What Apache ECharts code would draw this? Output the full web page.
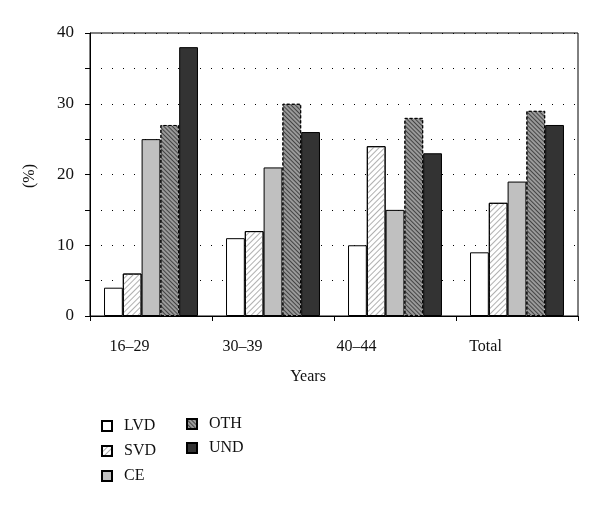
<!DOCTYPE html>
<html>
<head>
<meta charset="utf-8">
<script src="https://cdn.jsdelivr.net/npm/echarts@6/dist/echarts.min.js"></script>
<style>html,body{margin:0;padding:0;background:#fff}#c{width:600px;height:508px}</style>
</head>
<body>
<div id="c"></div>
<script>
var categories = ['16–29', '30–39', '40–44', 'Total'];
var LVD = [4, 11, 10, 9];
var SVD = [6, 12, 24, 16];
var CE  = [25, 21, 15, 19];
var OTH = [27, 30, 28, 29];
var UND = [38, 26, 23, 27];
var yTicks = [0, 10, 20, 30, 40];

var FONT = "'Liberation Serif', 'DejaVu Serif', serif";
var labelPad = [43, 61, 77, 63];
var rich = {};
labelPad.forEach(function (p, i) {
  rich['s' + i] = { padding: [0, p, 0, 0], fontFamily: FONT, fontSize: 16, color: '#111' };
});

function bar(name, data, style) {
  return {
    name: name, type: 'bar', data: data, barGap: 0, barCategoryGap: '23%',
    itemStyle: Object.assign({ borderColor: '#000', borderWidth: 1 }, style),
    emphasis: { disabled: true }, animation: false
  };
}

var chart = echarts.init(document.getElementById('c'), null, { renderer: 'canvas' });
chart.setOption({
  animation: false,
  grid: { left: 90, right: 22, top: 33, bottom: 192, show: true, borderColor: '#000', borderWidth: 1, backgroundColor: 'transparent' },
  xAxis: {
    type: 'category', data: categories,
    axisLine: { lineStyle: { color: '#000', width: 1 } },
    axisTick: { show: true, length: 5, lineStyle: { color: '#000' } },
    axisLabel: {
      margin: 23,
      formatter: function (v, i) { return '{s' + i + '|' + v + '}'; },
      rich: rich
    }
  },
  yAxis: {
    type: 'value', min: 0, max: 40, interval: 5,
    axisLine: { show: true, lineStyle: { color: '#000', width: 1 } },
    axisTick: { show: true, length: 5, lineStyle: { color: '#000' } },
    axisLabel: {
      margin: 16, fontFamily: FONT, fontSize: 17, color: '#111',
      formatter: function (v) { return yTicks.indexOf(v) >= 0 ? String(v) : ''; }
    },
    splitLine: { show: true, lineStyle: { color: '#000', width: 1, type: [1, 10] } }
  },
  legend: [
    {
      data: ['LVD', 'SVD', 'CE'], orient: 'vertical', left: 96, top: 413,
      itemWidth: 10, itemHeight: 10, itemGap: 9, icon: 'rect',
      textStyle: { fontFamily: FONT, fontSize: 16, color: '#111', padding: [0, 0, 0, 7] },
      selectedMode: false
    },
    {
      data: ['OTH', 'UND'], orient: 'vertical', left: 181, top: 411,
      itemWidth: 10, itemHeight: 10, itemGap: 8, icon: 'rect',
      textStyle: { fontFamily: FONT, fontSize: 16, color: '#111', padding: [0, 0, 0, 7] },
      selectedMode: false
    }
  ],
  graphic: [
    { type: 'text', x: 308, y: 377, style: { text: 'Years', font: '16px ' + FONT, fill: '#111', align: 'center', verticalAlign: 'middle' } },
    { type: 'text', x: 30, y: 176, rotation: Math.PI / 2, style: { text: '(%)', font: '16px ' + FONT, fill: '#111', align: 'center', verticalAlign: 'middle' } }
  ],
  series: [
    bar('LVD', LVD, { color: '#ffffff' }),
    bar('SVD', SVD, { color: '#ffffff', decal: { symbol: 'rect', symbolSize: 1, dashArrayX: [1, 0], dashArrayY: [1, 3], rotation: -Math.PI / 4, color: '#b0b0b0' } }),
    bar('CE', CE, { color: '#c0c0c0' }),
    bar('OTH', OTH, { color: '#9a9a9a', borderType: [3, 2], decal: { symbol: 'rect', symbolSize: 1, dashArrayX: [1, 0], dashArrayY: [1, 2], rotation: Math.PI / 4, color: '#444' } }),
    bar('UND', UND, { color: '#333333' })
  ]
});
</script>
</body>
</html>
